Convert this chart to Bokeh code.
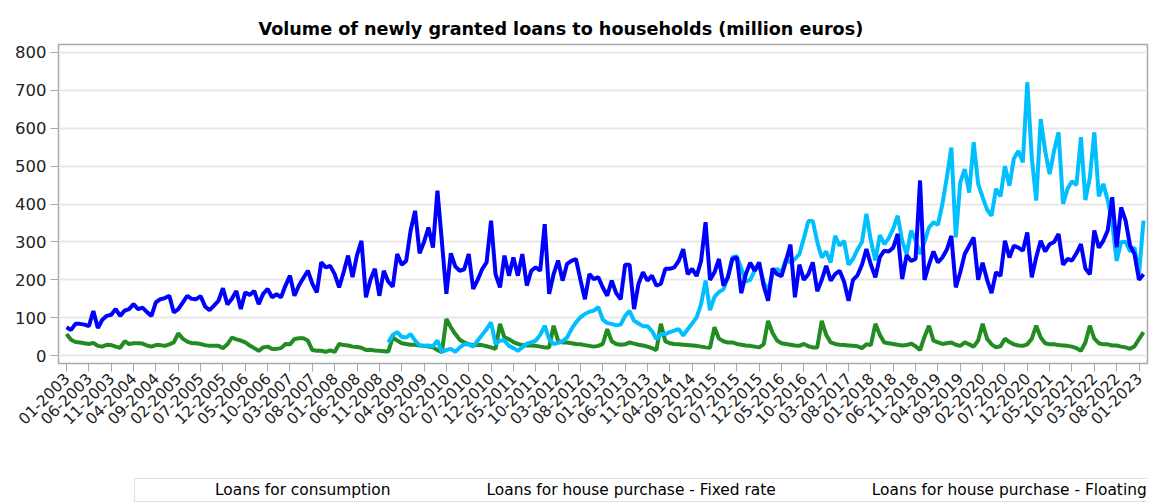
import math
import pandas as pd
from bokeh.plotting import figure
from bokeh.layouts import column
from bokeh.models import FixedTicker, Legend, LegendItem, Range1d, ColumnDataSource
from bokeh.embed import file_html
from bokeh.resources import INLINE

NaN = float("nan")

# monthly categories 01-2003 .. 02-2023
months = [d.strftime("%m-%Y") for d in pd.date_range("2003-01-01", periods=242, freq="MS")]

consumption = [
    57, 42, 36, 35, 33, 31, 34, 26, 24, 29, 28, 24,
    21, 38, 31, 33, 33, 32, 27, 24, 28, 28, 26, 30,
    35, 59, 45, 37, 33, 33, 31, 28, 26, 26, 26, 20,
    30, 48, 43, 40, 35, 27, 20, 13, 22, 24, 18, 18,
    20, 31, 30, 44, 46, 46, 40, 15, 13, 13, 10, 14,
    10, 31, 28, 27, 24, 23, 21, 15, 16, 14, 13, 12,
    11, 48, 40, 33, 31, 29, 29, 27, 26, 24, 22, 15,
    9, 97, 75, 57, 42, 35, 30, 28, 29, 28, 25, 22,
    18, 84, 48, 44, 36, 31, 28, 27, 27, 26, 24, 22,
    22, 79, 40, 35, 35, 33, 31, 30, 28, 26, 24, 26,
    31, 70, 38, 31, 29, 30, 35, 32, 29, 27, 24, 20,
    15, 84, 38, 33, 31, 30, 29, 28, 27, 26, 24, 22,
    21, 75, 45, 38, 35, 35, 31, 29, 27, 26, 24, 22,
    30, 92, 60, 40, 33, 31, 29, 27, 26, 31, 25, 22,
    22, 92, 55, 35, 31, 29, 28, 27, 26, 25, 20, 30,
    28, 84, 55, 35, 33, 31, 29, 27, 28, 32, 25, 15,
    50, 79, 40, 35, 31, 33, 35, 29, 26, 35, 30, 24,
    40, 84, 45, 30, 22, 25, 45, 36, 30, 27, 26, 30,
    45, 79, 48, 33, 30, 30, 28, 27, 26, 24, 20, 13,
    35, 79, 45, 33, 30, 30, 27, 27, 24, 22, 18, 25,
    44, 62,
]

fixed_rate = [NaN] * 72 + [
    35, 55, 62, 50, 48, 57, 40, 28, 26, 27, 25, 40,
    10, 15, 18, 10, 22, 30, 30, 24, 40, 55, 70, 88,
    31, 40, 40, 26, 20, 13, 22, 32, 35, 40, 55, 79,
    44, 31, 34, 38, 48, 70, 88, 101, 110, 116, 119, 128,
    95, 86, 84, 80, 82, 105, 118, 92, 85, 78, 78, 65,
    44, 57, 57, 62, 66, 70, 53, 70, 85, 101, 136, 198,
    120, 155, 168, 175, 207, 260, 262, 230, 196, 200, 225, 240,
    194, 171, 215, 229, 220, 255, 245, 255, 268, 310, 355, 355,
    300, 259, 275, 246, 316, 290, 303, 240, 255, 280, 300, 374,
    303, 251, 318, 294, 310, 335, 369, 303, 268, 330, 305, 268,
    300, 338, 352, 345, 400, 470, 549, 312, 457, 492, 430, 563,
    453, 418, 385, 369, 440, 420, 500, 448, 520, 540, 510, 721,
    523, 409, 624, 540, 479, 541, 589, 400, 440, 460, 450, 576,
    410, 470, 589, 420, 453, 410, 350, 250, 300, 300, 275, 285,
    215, 356,
]

floating_rate = [
    75, 68, 84, 84, 82, 78, 118, 73, 95, 105, 108, 123,
    105, 119, 123, 136, 123, 127, 115, 105, 141, 149, 152, 158,
    114, 123, 140, 158, 150, 149, 157, 130, 120, 132, 145, 178,
    135, 150, 171, 123, 167, 160, 171, 136, 163, 176, 154, 162,
    154, 185, 211, 158, 185, 205, 224, 190, 167, 246, 233, 237,
    215, 180, 220, 264, 207, 265, 303, 154, 200, 229, 158, 224,
    195, 182, 268, 240, 250, 330, 382, 270, 300, 338, 285, 435,
    300, 163, 270, 235, 224, 228, 268, 176, 200, 228, 246, 356,
    215, 180, 264, 211, 259, 211, 268, 185, 224, 233, 224, 347,
    163, 215, 251, 198, 242, 250, 255, 200, 149, 215, 202, 207,
    180, 158, 198, 165, 149, 240, 240, 123, 190, 220, 198, 211,
    185, 190, 229, 229, 233, 250, 281, 215, 229, 210, 250, 352,
    200, 220, 255, 185, 207, 255, 259, 165, 215, 245, 224, 246,
    185, 145, 230, 215, 210, 250, 293, 154, 240, 200, 215, 246,
    170, 200, 237, 198, 215, 224, 195, 145, 200, 212, 240, 281,
    240, 207, 260, 277, 275, 285, 321, 202, 265, 250, 255, 462,
    200, 240, 275, 246, 259, 280, 316, 180, 220, 268, 290, 312,
    200, 245, 200, 165, 220, 210, 303, 259, 290, 285, 277, 325,
    207, 260, 303, 275, 294, 300, 321, 240, 255, 251, 270, 294,
    230, 215, 330, 285, 303, 330, 418, 286, 391, 356, 290, 268,
    200, 215,
]

series_names = ["Loans for consumption",
                "Loans for house purchase - Fixed rate",
                "Loans for house purchase - Floating rate"]
series_colors = ["#228B22", "#00BFFF", "#0000FF"]

FONT = "DejaVu Sans"

idx = list(range(len(months)))
src = ColumnDataSource(dict(x=idx, cons=consumption, fixed=fixed_rate, floating=floating_rate))

p = figure(width=1155, height=470,
           x_range=Range1d(-1.8, 241.9), y_range=Range1d(-20.5, 820.5),
           output_backend="svg", toolbar_location=None,
           min_border_left=58, min_border_right=8, min_border_top=44, min_border_bottom=107,
           background_fill_color="white", border_fill_color="white")

p.title.text = "Volume of newly granted loans to households (million euros)"
p.title.align = "left"
p.title.offset = 200
p.title.text_font = FONT
p.title.text_font_size = "17.6px"
p.title.text_font_style = "bold"
p.title.text_color = "#000000"
p.title.standoff = 12

p.outline_line_color = "#a8a8a8"
p.outline_line_width = 1.5

p.xgrid.visible = False
p.ygrid.grid_line_color = "#e8e8e8"
p.ygrid.grid_line_width = 2
p.ygrid.ticker = FixedTicker(ticks=list(range(0, 801, 100)))

p.yaxis.ticker = FixedTicker(ticks=list(range(0, 801, 100)))
p.yaxis.axis_line_color = None
p.yaxis.major_tick_line_color = "#a8a8a8"
p.yaxis.major_tick_out = 8
p.yaxis.major_tick_in = 0
p.yaxis.minor_tick_line_color = None
p.yaxis.major_label_text_font = FONT
p.yaxis.major_label_text_font_size = "16.5px"
p.yaxis.major_label_text_color = "#222222"
p.yaxis.major_label_standoff = 4

tick_pos = list(range(0, len(months), 5))
p.xaxis.ticker = FixedTicker(ticks=tick_pos)
p.xaxis.major_label_overrides = {i: months[i] for i in tick_pos}
p.xaxis.major_label_orientation = math.pi / 4
p.xaxis.axis_line_color = None
p.xaxis.major_tick_line_color = "#a8a8a8"
p.xaxis.major_tick_out = 8
p.xaxis.major_tick_in = 0
p.xaxis.minor_tick_line_color = None
p.xaxis.major_label_text_font = FONT
p.xaxis.major_label_text_font_size = "15.5px"
p.xaxis.major_label_text_color = "#222222"
p.xaxis.major_label_standoff = 4

p.line("x", "cons", source=src, line_color=series_colors[0], line_width=4)
p.line("x", "fixed", source=src, line_color=series_colors[1], line_width=4)
p.line("x", "floating", source=src, line_color=series_colors[2], line_width=4)

# legend strip below the chart
lg = figure(width=1155, height=32, x_range=Range1d(0, 1), y_range=Range1d(0, 1),
            x_axis_type=None, y_axis_type=None,
            output_backend="svg", toolbar_location=None,
            min_border_left=0, min_border_right=0, min_border_top=0, min_border_bottom=0,
            background_fill_color="white", border_fill_color="white")
lg.outline_line_color = None
lg.grid.visible = False

items = []
for name, color in zip(series_names, series_colors):
    r = lg.line([], [], line_color=color, line_width=4)
    items.append(LegendItem(label=name, renderers=[r]))

legend = Legend(items=items, orientation="horizontal", location=(76, 0),
                border_line_color="#c4c4c4", border_line_width=1.5,
                background_fill_color="white", background_fill_alpha=1.0,
                glyph_width=70, glyph_height=14, label_standoff=8, spacing=18,
                label_text_font=FONT, label_text_font_size="15.4px",
                label_text_color="#000000", padding=2, margin=0)
lg.add_layout(legend, "center")

layout = column(p, lg, spacing=0)

open("out.html", "w").write(file_html(layout, INLINE))
